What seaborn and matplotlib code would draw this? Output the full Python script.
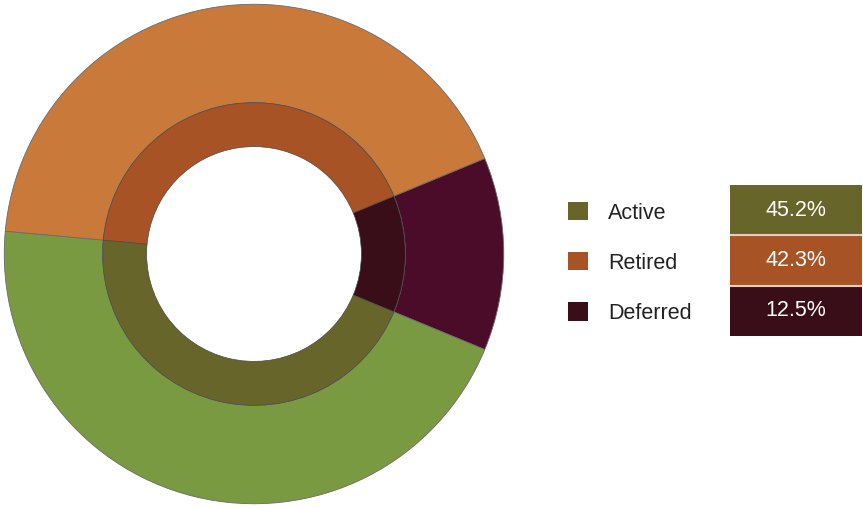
import seaborn as sns
import numpy as np
import matplotlib.pyplot as plt
from matplotlib.colors import ListedColormap

labels = ['Active', 'Retired', 'Deferred']
shares = [45.2, 42.3, 12.5]
outer_colors = ['#7a9a42', '#c97a3a', '#4a0c28']
inner_colors = ['#676529', '#a85326', '#390e19']

sns.set_theme(style='white')
plt.rcParams['font.family'] = ['Liberation Sans', 'DejaVu Sans']

fig = plt.figure(figsize=(8.63, 5.08), dpi=100)

# donut: outer ring + darker inner band
ax = fig.add_axes([3/863, 3/508, 502/863, 502/508])
# pie goes counterclockwise from Deferred, so reverse order
order = [2, 1, 0]
vals = [shares[i] for i in order]
ax.pie(vals, colors=[outer_colors[i] for i in order], radius=1.0, startangle=-22.5,
       counterclock=True, wedgeprops=dict(width=1.0 - 0.606, edgecolor='#6a6a6a', linewidth=0.6))
wedges, _ = ax.pie(vals, colors=[inner_colors[i] for i in order], radius=0.606, startangle=-22.5,
                   counterclock=True, wedgeprops=dict(width=0.606 - 0.43, edgecolor='#4a4a4a', linewidth=0.5))
ax.set_xlim(-1.005, 1.005)
ax.set_ylim(-1.005, 1.005)
ax.set_aspect('equal')
ax.axis('off')

# legend
handles = [wedges[order.index(i)] for i in range(3)]
leg = fig.legend(handles, labels, loc='upper left', bbox_to_anchor=(568/863, 1 - 202/508),
                 frameon=False, fontsize=15.5, handlelength=0.93, handleheight=0.93,
                 handletextpad=0.93, labelspacing=1.33, borderpad=0, borderaxespad=0)
for h in leg.legend_handles:
    h.set_edgecolor('none')
for t in leg.get_texts():
    t.set_color('#222222')

# percentage boxes
hax = fig.add_axes([730/863, (508 - 336)/508, 132/863, 151/508])
data = np.arange(3).reshape(3, 1)
annot = np.array([[f'{v:.1f}%'] for v in shares])
sns.heatmap(data, ax=hax, cmap=ListedColormap(inner_colors), cbar=False, annot=annot, fmt='',
            annot_kws=dict(color='white', fontsize=15.5), linewidths=0,
            xticklabels=False, yticklabels=False)
for y in [1, 2]:
    hax.axhline(y, color='#e0cfc6', lw=1.5)
hax.axis('off')

fig.savefig('out.png', dpi=100)
